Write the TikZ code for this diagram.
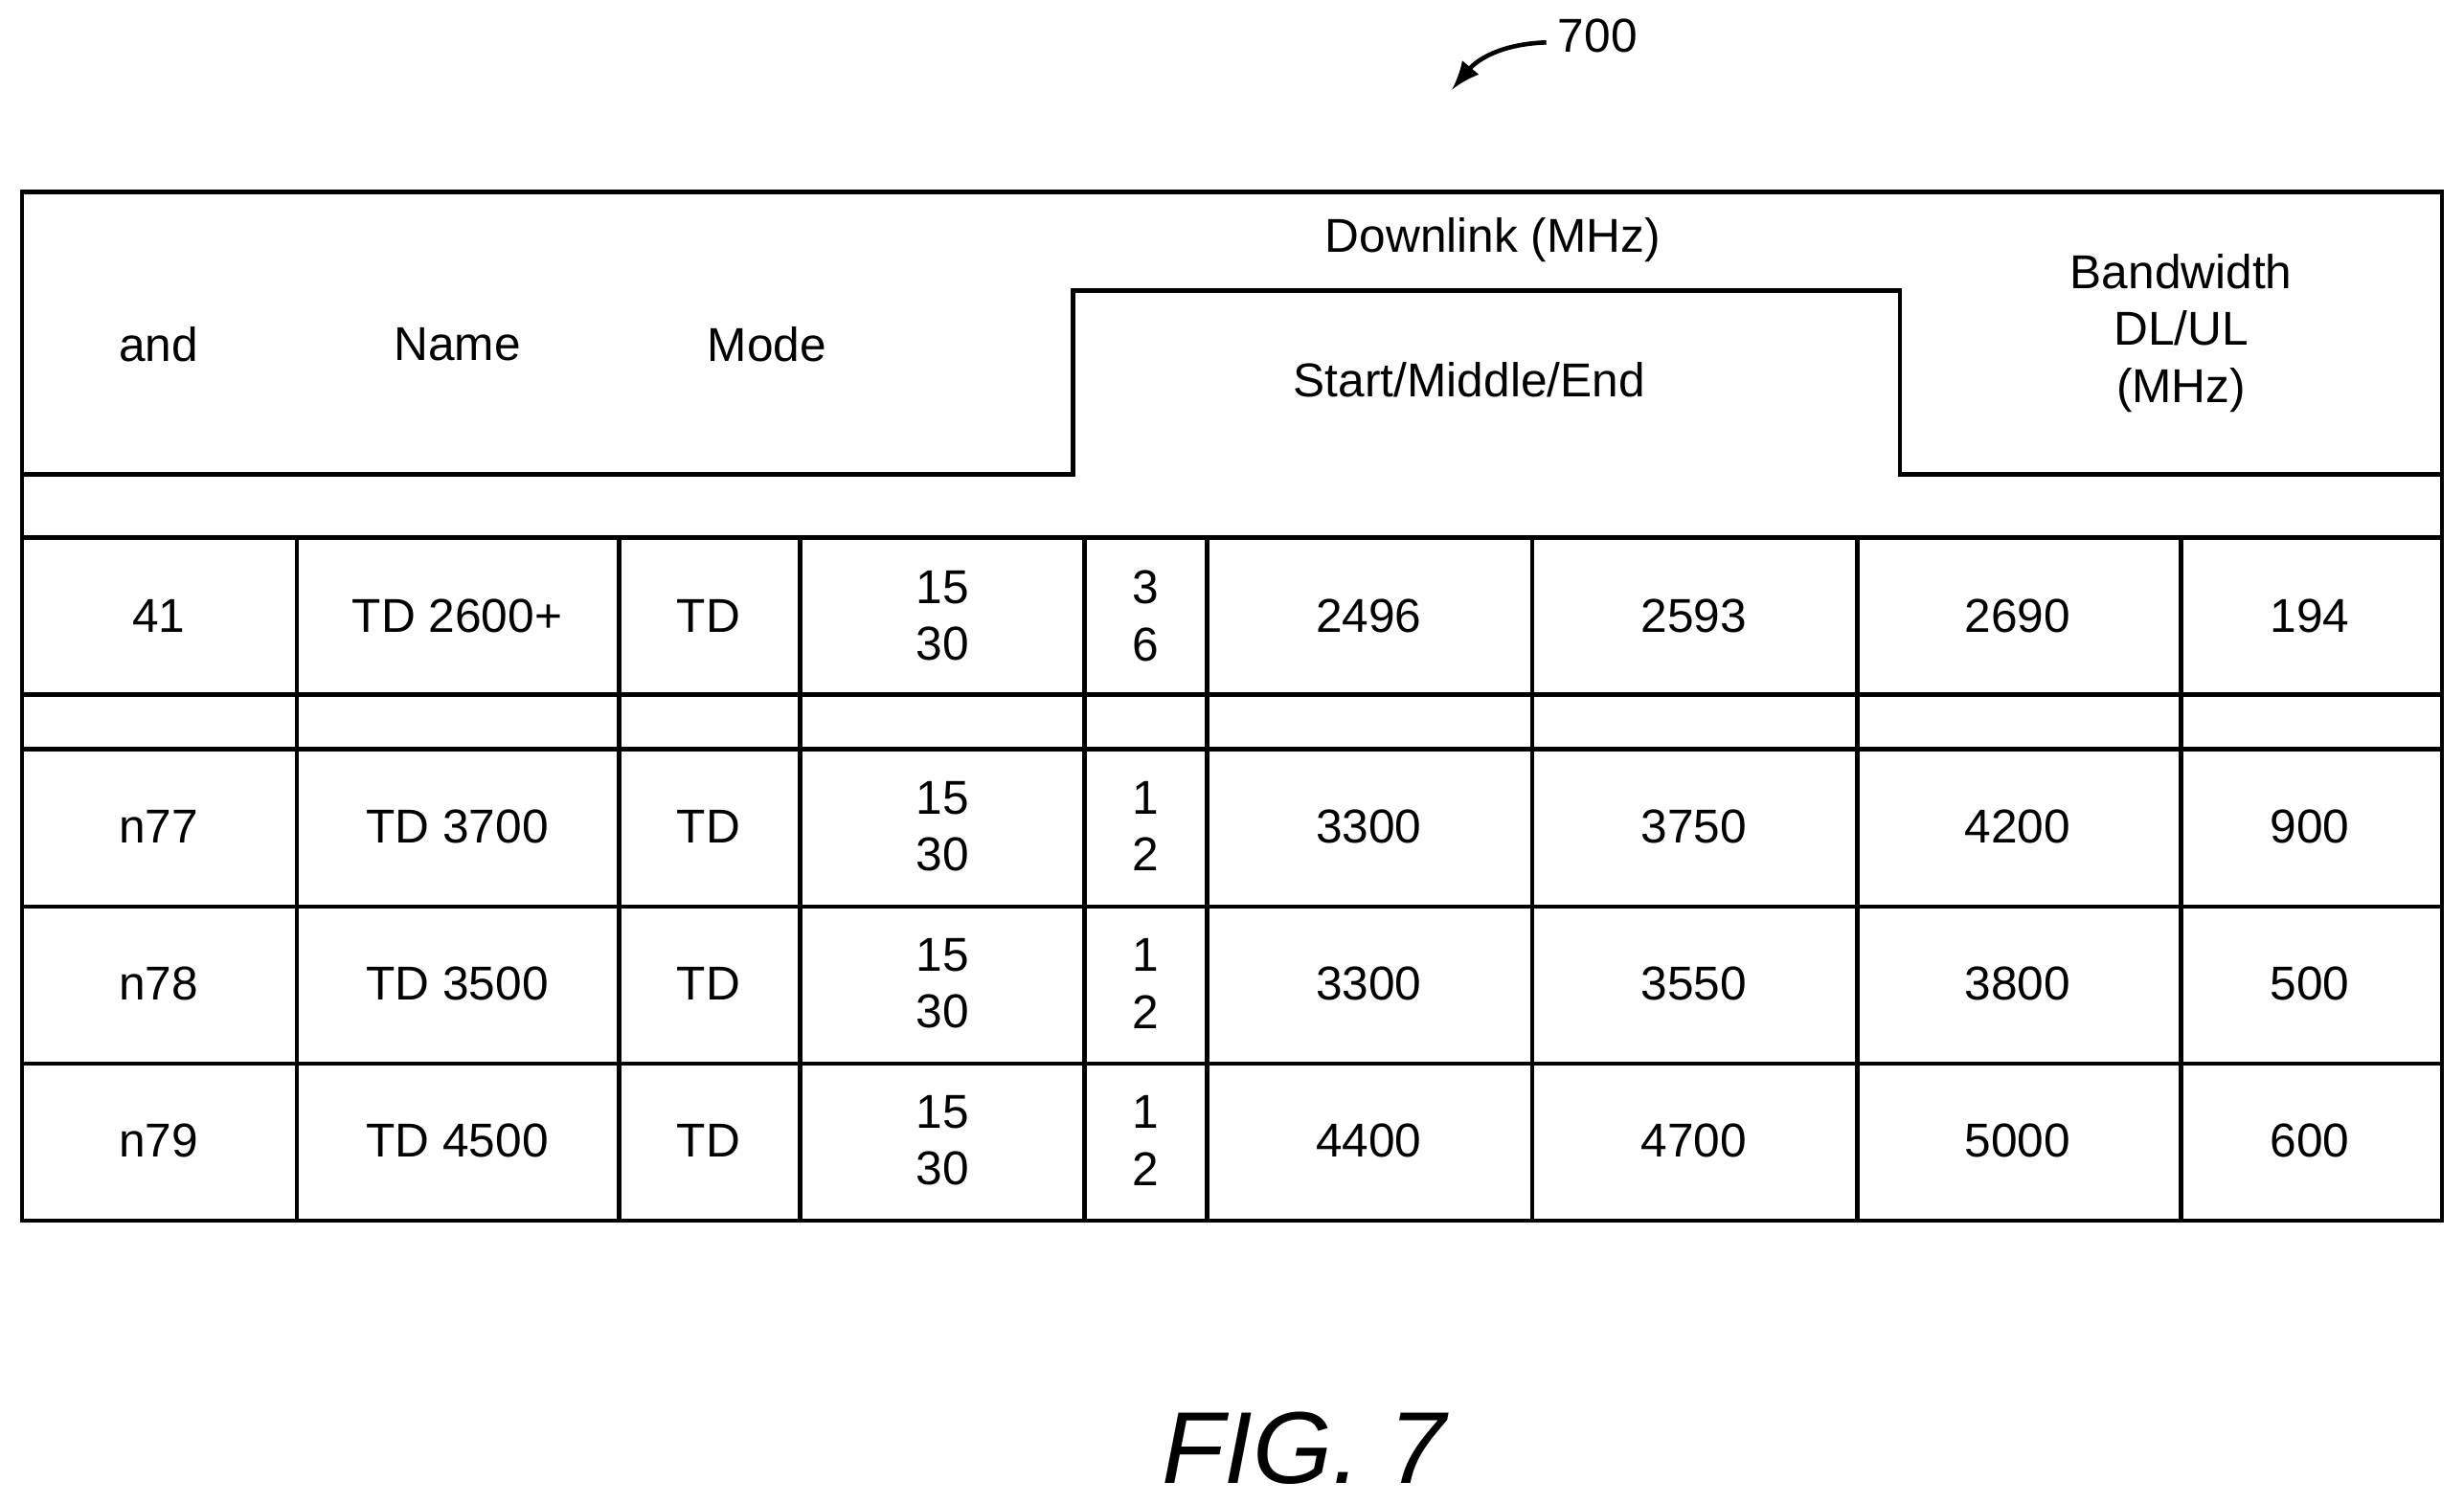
\documentclass[tikz,border=0pt]{standalone}
\usepackage{fontspec}
\setmainfont{Liberation Sans}
\usetikzlibrary{positioning}
\begin{document}
\begin{tikzpicture}[x=0.01cm,y=-0.01cm,line width=0.8pt,
  cell/.style={font=\fontsize{8.6}{10.3}\selectfont,align=center,inner sep=0pt}]
\useasboundingbox (0,0) rectangle (1568,957);
% outer frame and header
\draw (14,122) rectangle (1554,777);
\draw (14,302) -- (683,302) -- (683,185) -- (1209,185) -- (1209,302) -- (1554,302);
\draw (14,342) -- (1554,342);
\foreach \y in {442,477,577,677}\draw (14,\y) -- (1554,\y);
\foreach \x in {189,394,509,690,768,975,1182,1388}\draw (\x,342) -- (\x,777);
% header texts
\node[cell] (hBand) at (101,219) {and};
\node[cell] (hName) at (291,219) {Name};
\node[cell] (hMode) at (488,219) {Mode};
\node[cell] (hDown) at (950,153) {Downlink (MHz)};
\node[cell] (hSme) at (935,242) {Start/Middle/End};
\node[cell,text width=2.4cm] (hBw) at (1388,212) {Bandwidth\\DL/UL\\(MHz)};
% rows
\foreach \y/\a/\b/\c/\d/\e/\f/\g in {392/41/TD 2600+/3\\6/2496/2593/2690/194,
  526/n77/TD 3700/1\\2/3300/3750/4200/900,
  626/n78/TD 3500/1\\2/3300/3550/3800/500,
  726/n79/TD 4500/1\\2/4400/4700/5000/600}{
  \node[cell] (band\y) at (101,\y) {\a};
  \node[cell] (name\y) at (291,\y) {\b};
  \node[cell] (mode\y) at (451,\y) {TD};
  \node[cell] (scs\y) at (600,\y) {15\\30};
  \node[cell] (bw\y) at (729,\y) {\c};
  \node[cell] (start\y) at (871,\y) {\d};
  \node[cell] (mid\y) at (1078,\y) {\e};
  \node[cell] (end\y) at (1284,\y) {\f};
  \node[cell] (tot\y) at (1470,\y) {\g};
}
% reference numeral
\node[cell,anchor=west] (ref) at (990,23) {700};
\coordinate (refStart) at (984,27);
\coordinate (refTip) at (924,57);
\draw[-latex] (refStart) .. controls (955,28) and (940,38) .. (refTip);
\node[font=\fontsize{18.5}{22}\selectfont\itshape] (fig) at (830,922) {FIG. 7};
\end{tikzpicture}
\end{document}
